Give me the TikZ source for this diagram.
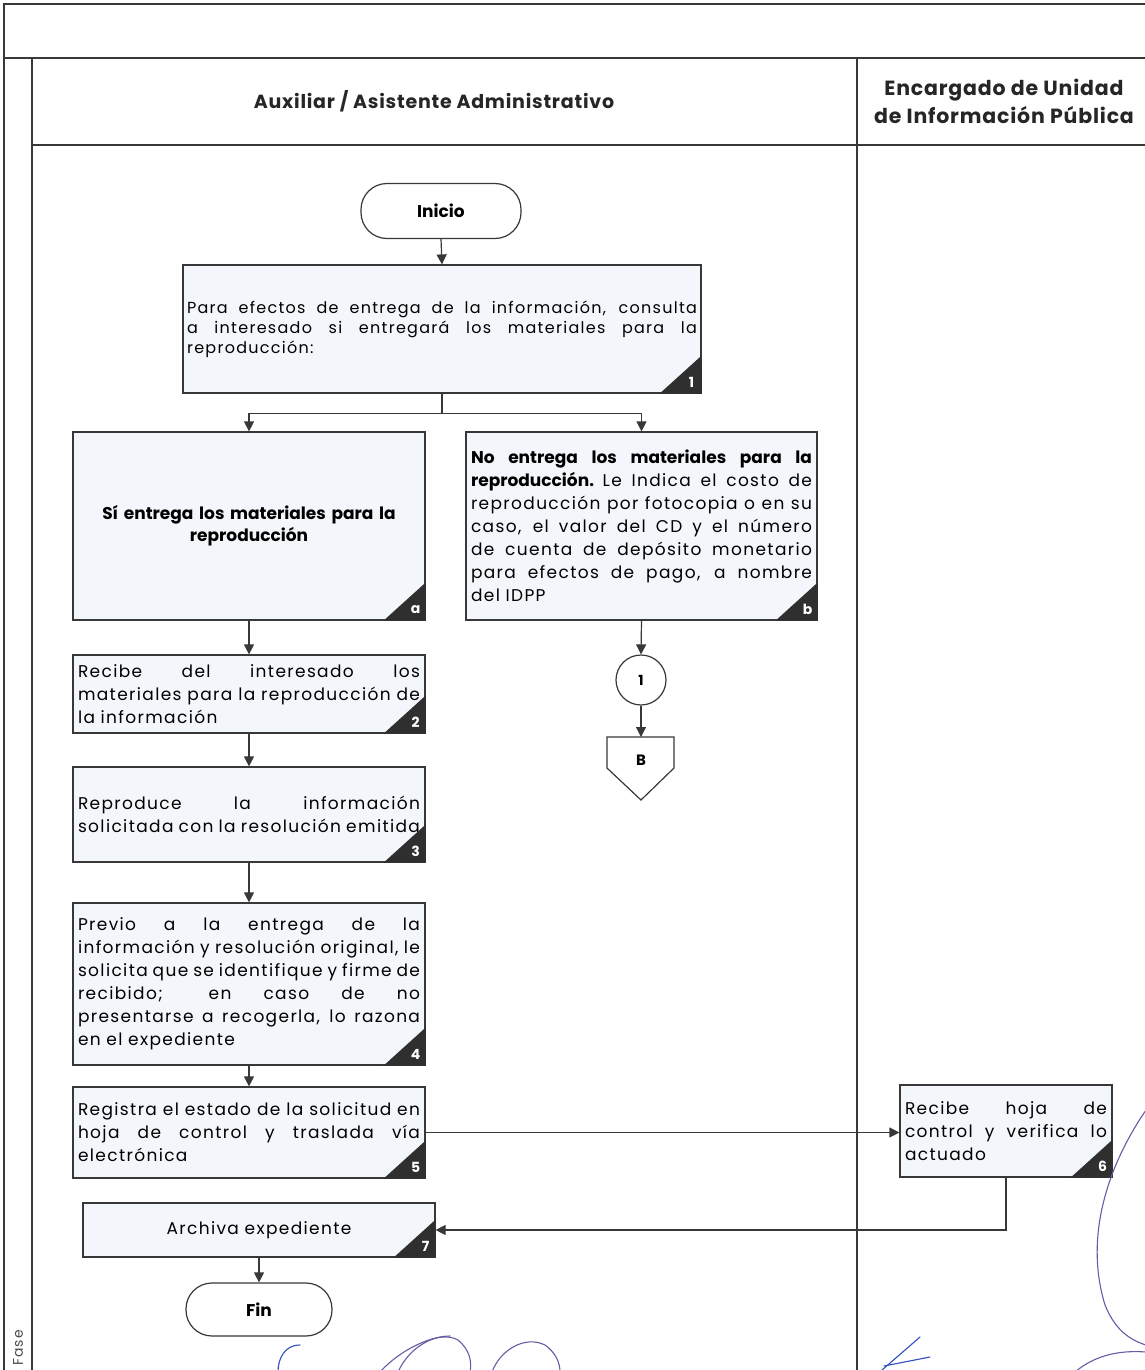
\documentclass[tikz,border=0pt]{standalone}
\usepackage{fontspec}
\setmainfont{Poppins}
\newfontfamily\regfont{Poppins}[LetterSpace=8]
\newfontfamily\headfont{Poppins}[LetterSpace=4]
\usetikzlibrary{arrows.meta,calc}
\definecolor{linec}{HTML}{383838}
\definecolor{boxfill}{HTML}{F3F7FC}
\definecolor{tagc}{HTML}{2F2F2F}
\definecolor{sigpurple}{HTML}{6B5AA6}
\definecolor{sigblue}{HTML}{2F4FC0}
\newcommand\jl[1]{\makebox[\linewidth][s]{\spaceskip=0.28em plus 1fil\relax #1}}
\tikzset{
  frameline/.style={draw=linec, line width=1.2pt},
  proc/.style={draw=linec, line width=1.2pt, fill=boxfill, rectangle, inner xsep=5pt, inner ysep=0pt, align=left, font=\regfont\fontsize{17pt}{23pt}\selectfont},
  term/.style={draw=linec, line width=1.2pt, fill=white, rectangle, rounded corners=26pt, font=\bfseries\fontsize{17pt}{20pt}\selectfont},
  flow/.style={draw=linec, line width=1.2pt, -{Triangle[length=10pt,width=10pt]}},
  plain/.style={draw=linec, line width=1.2pt},
  tagtxt/.style={text=white, font=\bfseries\fontsize{14pt}{15pt}\selectfont, inner sep=0pt},
  lanehead/.style={font=\headfont\bfseries\fontsize{19pt}{27pt}\selectfont, text=black!85, align=center},
  sig/.style={line width=1.1pt, line cap=round},
}
\newcommand\cornertag[2]{%
  \fill[tagc] (#1.south east) -- ++(0,-38) -- ++(-42,38) -- cycle;
  \node[tagtxt] (tag#1) at ($(#1.south east)+(-10,-11)$) {#2};}
\begin{document}
\begin{tikzpicture}[x=1pt,y=-1pt]
\useasboundingbox (0,0) rectangle (1145,1370);
\clip (0,0) rectangle (1145,1370);
\fill[white] (0,0) rectangle (1145,1370);
% frame
\draw[frameline] (4,1375) -- (4,4) -- (1150,4);
\draw[frameline] (4,58) -- (1150,58);
\draw[frameline] (32,58) -- (32,1375);
\draw[frameline] (32,145) -- (1150,145);
\draw[frameline] (857,58) -- (857,1375);
\node[lanehead] (h1) at (434,101) {Auxiliar / Asistente Administrativo};
\node[lanehead, font=\headfont\bfseries\fontsize{20.5pt}{28pt}\selectfont] (h2) at (1004,101) {Encargado de Unidad\\de Información Pública};
\node[rotate=90, anchor=west, inner sep=0pt, font=\regfont\fontsize{14pt}{14pt}\selectfont, text=black!70] (fase) at (18,1366) {Fase};
% nodes
\node[term, minimum width=160pt, minimum height=55pt] (ini) at (441,211) {Inicio};
\node[proc, text width=510pt, inner xsep=4pt, minimum height=128pt, font=\regfont\fontsize{16pt}{20pt}\selectfont] (s1) at (442,329)
 {\jl{Para efectos de entrega de la información, consulta}\\\jl{a interesado si entregará los materiales para la}\\reproducción:};
\cornertag{s1}{1}
\node[proc, text width=342pt, minimum height=188pt, align=center, font=\bfseries\fontsize{17pt}{22pt}\selectfont] (sa) at (249,526)
 {Sí entrega los materiales para la\\reproducción};
\cornertag{sa}{a}
\node[proc, text width=341pt, minimum height=188pt] (sb) at (641.5,526)
 {\jl{\rmfamily\bfseries No entrega los materiales para la}\\\jl{{\rmfamily\bfseries reproducción.} Le Indica el costo de}\\\jl{reproducción por fotocopia o en su}\\\jl{caso, el valor del CD y el número}\\\jl{de cuenta de depósito monetario}\\\jl{para efectos de pago, a nombre}\\del IDPP};
\cornertag{sb}{b}
\node[circle, draw=linec, line width=1.2pt, fill=white, minimum size=50pt, inner sep=0pt, font=\bfseries\fontsize{14pt}{15pt}\selectfont] (c1) at (641,680) {1};
\draw[plain, fill=white] (607,737) -- (674,737) -- (674,768) -- (641,800) -- (607,768) -- cycle;
\coordinate (Btop) at (641,737);
\node[font=\bfseries\fontsize{15pt}{16pt}\selectfont] (Blab) at (641,760) {B};
\node[proc, text width=342pt, minimum height=78pt] (s2) at (249,694)
 {\jl{Recibe del interesado los}\\\jl{materiales para la reproducción de}\\la información};
\cornertag{s2}{2}
\node[proc, text width=342pt, minimum height=95pt] (s3) at (249,814.5)
 {\jl{Reproduce la información}\\\jl{solicitada con la resolución emitida}};
\cornertag{s3}{3}
\node[proc, text width=342pt, minimum height=162pt] (s4) at (249,984)
 {\jl{Previo a la entrega de la}\\\jl{información y resolución original, le}\\\jl{solicita que se identifique y firme de}\\\jl{recibido; en caso de no}\\\jl{presentarse a recogerla, lo razona}\\en el expediente};
\cornertag{s4}{4}
\node[proc, text width=342pt, minimum height=91pt] (s5) at (249,1132.5)
 {\jl{Registra el estado de la solicitud en}\\\jl{hoja de control y traslada vía}\\electrónica};
\cornertag{s5}{5}
\node[proc, text width=202pt, minimum height=92pt] (s6) at (1006,1131)
 {\jl{Recibe hoja de}\\\jl{control y verifica lo}\\actuado};
\cornertag{s6}{6}
\node[proc, text width=342pt, minimum height=54pt, align=center] (s7) at (259,1230) {Archiva expediente};
\cornertag{s7}{7}
\node[term, minimum width=146pt, minimum height=53pt] (fin) at (259,1309.5) {Fin};
% connectors
\draw[flow] (ini.south) -- (s1.north);
\draw[plain] (s1.south) -- ++(0,20) coordinate (split);
\draw[flow] (split) -| (sa.north);
\draw[flow] (split) -| (sb.north);
\draw[flow] (sb.south) -- (c1.north);
\draw[flow] (c1.south) -- (Btop);
\draw[flow] (sa.south) -- (s2.north);
\draw[flow] (s2.south) -- (s3.north);
\draw[flow] (s3.south) -- (s4.north);
\draw[flow] (s4.south) -- (s5.north);
\draw[flow] (s5.east) -- (s5.east -| s6.west);
\draw[flow] (s6.south) |- (s7.east);
\draw[flow] (s7.south) -- (fin.north);
% signatures (scan marks)
\draw[sig, sigpurple] (1146,1110) .. controls (1105,1170) and (1085,1240) .. (1105,1305) .. controls (1115,1330) and (1130,1340) .. (1146,1345);
\draw[sig, sigpurple] (1075,1372) .. controls (1095,1355) and (1120,1350) .. (1146,1352);
\draw[sig, sigblue] (920,1337) -- (882,1370);
\draw[sig, sigblue] (884,1366) -- (930,1357);
\draw[sig, sigblue] (300,1345) .. controls (285,1345) and (278,1358) .. (278,1372);
\draw[sig, sigpurple] (398,1372) .. controls (410,1345) and (440,1330) .. (458,1340) .. controls (470,1350) and (472,1362) .. (470,1372);
\draw[sig, sigpurple] (380,1372) .. controls (400,1350) and (430,1336) .. (450,1336);
\draw[sig, sigpurple] (492,1372) .. controls (500,1350) and (525,1335) .. (545,1345) .. controls (555,1352) and (560,1362) .. (560,1372);
\end{tikzpicture}
\end{document}
